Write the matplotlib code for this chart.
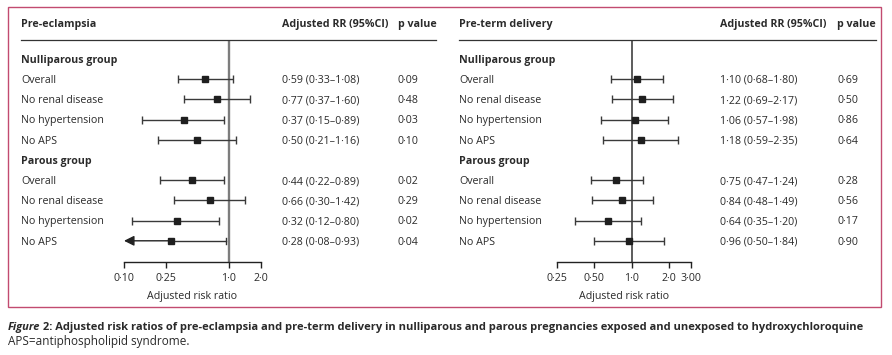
import matplotlib
matplotlib.use("Agg")
import matplotlib.pyplot as plt
from matplotlib.patches import Rectangle
from matplotlib.lines import Line2D

plt.rcParams['font.family'] = ['Open Sans', 'DejaVu Sans']

# ---------------- data ----------------
group_names = ["Nulliparous group", "Parous group"]
sub_labels = ["Overall", "No renal disease", "No hypertension", "No APS"]

pe_est = [0.59, 0.77, 0.37, 0.50, 0.44, 0.66, 0.32, 0.28]
pe_lo = [0.33, 0.37, 0.15, 0.21, 0.22, 0.30, 0.12, 0.08]
pe_hi = [1.08, 1.60, 0.89, 1.16, 0.89, 1.42, 0.80, 0.93]
pe_p = ["0·09", "0·48", "0·03", "0·10", "0·02", "0·29", "0·02", "0·04"]

pt_est = [1.10, 1.22, 1.06, 1.18, 0.75, 0.84, 0.64, 0.96]
pt_lo = [0.68, 0.69, 0.57, 0.59, 0.47, 0.48, 0.35, 0.50]
pt_hi = [1.80, 2.17, 1.98, 2.35, 1.24, 1.49, 1.20, 1.84]
pt_p = ["0·69", "0·50", "0·86", "0·64", "0·28", "0·56", "0·17", "0·90"]

pe_ticks = [0.10, 0.25, 1.0, 2.0]
pe_ticklabels = ["0·10", "0·25", "1·0", "2·0"]
pt_ticks = [0.25, 0.50, 1.0, 2.0, 3.0]
pt_ticklabels = ["0·25", "0·50", "1·0", "2·0", "3·00"]

titles = ["Pre-eclampsia", "Pre-term delivery"]
col_est = "Adjusted RR (95%CI)"
col_p = "p value"
xlabel = "Adjusted risk ratio"
caption_a = "Figure"
caption_b = " 2: Adjusted risk ratios of pre-eclampsia and pre-term delivery in nulliparous and parous pregnancies exposed and unexposed to hydroxychloroquine"
caption_c = "APS=antiphospholipid syndrome."

# ---------------- layout ----------------
W, H = 892, 355
fig = plt.figure(figsize=(W / 100, H / 100), dpi=100)
TXT = "#2a2a2a"
FS = 7.7
CFS_B = 8.0
CFS = 8.5


def fx(x):
    return x / W


def fy(y):
    return 1 - y / H


def ftext(x, y, s, **kw):
    kw.setdefault("color", TXT)
    kw.setdefault("fontsize", FS)
    return fig.text(fx(x), fy(y), s, **kw)


# outer box
fig.add_artist(Rectangle((fx(8), fy(307)), fx(881) - fx(8), fy(7) - fy(307),
                         transform=fig.transFigure, fill=False,
                         edgecolor="#c24b70", lw=1.0))

row0, rstep = 59, 20.2
axis_y, top_y = 262, 40

panels = [
    dict(x_label=21, x_est=282, x_p=398, line_end=436, ax_x0=124, ax_x1=260.6,
         xmin=0.10, xmax=2.0, est=pe_est, lo=pe_lo, hi=pe_hi, p=pe_p,
         ticks=pe_ticks, ticklabels=pe_ticklabels, title=titles[0],
         vcol="#7d7d7d", vlw=1.7),
    dict(x_label=459, x_est=720, x_p=837, line_end=876, ax_x0=557, ax_x1=690.8,
         xmin=0.25, xmax=3.0, est=pt_est, lo=pt_lo, hi=pt_hi, p=pt_p,
         ticks=pt_ticks, ticklabels=pt_ticklabels, title=titles[1],
         vcol="#303030", vlw=1.1),
]

for P in panels:
    # header
    ftext(P["x_label"], 26.5, P["title"], fontweight="bold", va="baseline")
    ftext(P["x_est"], 26.5, col_est, fontweight="bold", va="baseline")
    ftext(P["x_p"], 26.5, col_p, fontweight="bold", va="baseline")
    fig.add_artist(Line2D([fx(P["x_label"]), fx(P["line_end"])], [fy(top_y), fy(top_y)],
                          transform=fig.transFigure, color="#333333", lw=0.9))

    ax = fig.add_axes([fx(P["ax_x0"]), fy(axis_y), fx(P["ax_x1"]) - fx(P["ax_x0"]),
                       fy(top_y) - fy(axis_y)])
    ax.set_xscale("log")
    ax.set_xlim(P["xmin"], P["xmax"])
    ax.set_ylim(axis_y, top_y)
    ax.patch.set_alpha(0)
    for s in ["top", "left", "right"]:
        ax.spines[s].set_visible(False)
    ax.spines["bottom"].set_color("#222222")
    ax.spines["bottom"].set_linewidth(1.0)
    ax.set_yticks([])
    ax.set_xticks(P["ticks"])
    ax.set_xticklabels(P["ticklabels"])
    ax.minorticks_off()
    ax.tick_params(axis="x", direction="out", length=4.5, width=1.0, color="#222222",
                   labelsize=FS, labelcolor=TXT, pad=3.2)
    ax.set_xlabel(xlabel, fontsize=FS, color=TXT, labelpad=5)
    ax.axvline(1.0, color=P["vcol"], lw=P["vlw"], zorder=1)

    k = 0
    for g, gname in enumerate(group_names):
        ygrp = row0 + (g * 5) * rstep
        ftext(P["x_label"], ygrp + 3.8, gname, fontweight="bold", va="baseline")
        for j, lab in enumerate(sub_labels):
            y = row0 + (g * 5 + 1 + j) * rstep
            e, l, h = P["est"][k], P["lo"][k], P["hi"][k]
            ftext(P["x_label"], y + 3.8, lab, va="baseline")
            est_txt = f"{e:.2f} ({l:.2f}–{h:.2f})".replace(".", "·")
            ftext(P["x_est"], y + 3.8, est_txt, va="baseline")
            ftext(P["x_p"], y + 3.8, P["p"][k], va="baseline")
            if l < P["xmin"]:
                ax.annotate("", xy=(P["xmin"], y), xytext=(e, y),
                            arrowprops=dict(arrowstyle="-|>,head_length=0.6,head_width=0.3",
                                            color="#222222", lw=1.0, shrinkA=0, shrinkB=0),
                            annotation_clip=False)
                ax.plot([h, h], [y - 3, y + 3], color="#333333", lw=1.0)
                ax.plot([e, h], [y, y], color="#333333", lw=1.0)
                ax.plot([e], [y], marker="s", ms=4.6, color="#1f1f1f", zorder=3)
            else:
                ax.errorbar([e], [y], xerr=[[e - l], [h - e]], fmt="s", ms=4.6,
                            color="#1f1f1f", ecolor="#3a3a3a", elinewidth=1.0,
                            capsize=3.0, capthick=1.0, zorder=3)
            k += 1

# caption
ta = ftext(8, 330, caption_a, fontweight="bold", fontstyle="italic", fontsize=CFS_B,
           va="baseline")
fig.canvas.draw()
bb = ta.get_window_extent(fig.canvas.get_renderer())
fig.text(bb.x1 / W, fy(330), caption_b, fontweight="bold", fontsize=CFS_B, color=TXT,
         va="baseline")
ftext(8, 345, caption_c, fontsize=CFS, va="baseline")

fig.savefig("out.png", dpi=100)
